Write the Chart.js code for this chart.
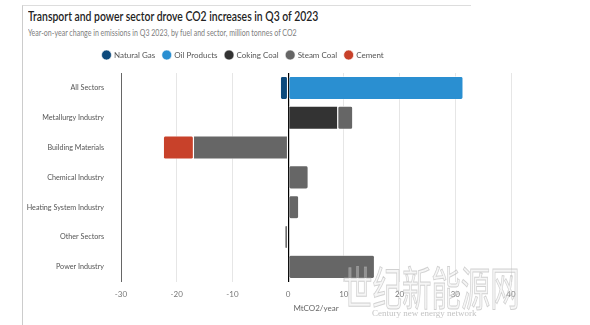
<!DOCTYPE html>
<html>
<head>
<meta charset="utf-8">
<script src="https://cdn.jsdelivr.net/npm/chart.js@4/dist/chart.umd.min.js"></script>
<style>
  body { margin: 0; background: #fff; font-family: "Lato", sans-serif; }
  #wrap { position: relative; width: 590px; height: 325px; overflow: hidden; }
  #frame { position: absolute; left: 22px; top: 5px; width: 448px; height: 330px; border-left: 1px solid #ccc; border-top: 1px solid #ddd; }
  .head { position: absolute; left: 28px; white-space: nowrap; transform-origin: 0 0; -webkit-font-smoothing: antialiased; }
  #title { top: 7px; font-size: 14px; color: #222; font-weight: 600; }
  #sub { top: 27px; font-size: 9px; color: #808080; }
  #wm1 { position: absolute; left: 343px; top: 252px; font-size: 46px; color: rgba(230,230,230,0.35); -webkit-text-stroke: 1px rgba(175,175,175,0.55); font-family: "Noto Sans CJK SC"; white-space: nowrap; transform-origin: 0 0; transform: scaleX(0.64); }
  #wm2 { position: absolute; left: 372px; top: 308px; font-size: 9px; color: rgba(170,170,170,0.7); font-family: "Liberation Serif", serif; white-space: nowrap; }
  canvas { position: absolute; left: 0; top: 0; }
</style>
</head>
<body>
<div id="wrap">
  <div id="frame"></div>
  <div id="title" class="head">Transport and power sector drove CO2 increases in Q3 of 2023</div>
  <div id="sub" class="head">Year-on-year change in emissions in Q3 2023, by fuel and sector, million tonnes of CO2</div>
  <canvas id="chart" width="590" height="325"></canvas>
  <div id="wm1">世纪新能源网</div>
  <div id="wm2">Century new energy network</div>
</div>
<script>
const sectors = ["All Sectors", "Metallurgy Industry", "Building Materials", "Chemical Industry",
  "Heating System Industry", "Other Sectors", "Power Industry"];

const naturalGas  = [-1.4, 0, 0, 0, 0, 0, 0];
const oilProducts = [31.4, 0, 0, 0, 0, 0, 0];
const cokingCoal  = [0, 8.9, 0, 0, 0, 0, 0];
const steamCoal   = [0, 2.7, -17.0, 3.6, 1.9, -0.6, 15.5];
const cement      = [0, 0, -5.4, 0, 0, 0, 0];

const xTicks = [-30, -20, -10, 0, 10, 20, 30, 40];

// squeeze the heading lines to the narrow width of the original font
const fitWidth = (id, w) => {
  const el = document.getElementById(id);
  el.style.transform = `scaleX(${w / el.scrollWidth})`;
};
fitWidth('title', 290);
fitWidth('sub', 269);

const font = { family: "Lato, sans-serif", size: 8 };

const ds = (label, data, color) => ({
  label, data, backgroundColor: color, borderColor: '#fff', borderWidth: 0.6,
  borderRadius: 2, borderSkipped: false, barPercentage: 0.78, categoryPercentage: 1
});

// nudge the legend so it sits left of centre like the original
const legendShift = {
  id: 'legendShift',
  afterLayout(chart) {
    const lg = chart.legend;
    lg.left = 95;
    lg.top -= 4;
    lg.bottom -= 4;
  }
};

const ctx = document.getElementById('chart').getContext('2d');
new Chart(ctx, {
  type: 'bar',
  data: {
    labels: sectors,
    datasets: [
      ds('Natural Gas', naturalGas, '#0d4a7c'),
      ds('Oil Products', oilProducts, '#2a8fd1'),
      ds('Coking Coal', cokingCoal, '#333333'),
      ds('Steam Coal', steamCoal, '#666666'),
      ds('Cement', cement, '#c8412a')
    ]
  },
  plugins: [legendShift],
  options: {
    indexAxis: 'y',
    responsive: false,
    animation: false,
    layout: { padding: { top: 47, right: 79, left: 0, bottom: 12 } },
    plugins: {
      legend: {
        position: 'top',
        align: 'start',
        labels: {
          usePointStyle: true, pointStyle: 'circle', boxWidth: 7, boxHeight: 7,
          padding: 8, color: '#555', font
        }
      },
      tooltip: { enabled: false }
    },
    scales: {
      x: {
        stacked: true, min: -30, max: 40,
        afterBuildTicks: axis => { axis.ticks = xTicks.map(v => ({ value: v })); },
        grid: {
          color: c => c.tick && c.tick.value === 0 ? '#000' : '#e6e6e6',
          lineWidth: c => c.tick && c.tick.value === 0 ? 1.2 : 1,
          drawTicks: false
        },
        border: { display: false },
        ticks: { color: '#777', padding: 8, font },
        title: { display: true, text: 'MtCO2/year', color: '#666', padding: { top: -4, bottom: 0 }, font }
      },
      y: {
        stacked: true,
        afterFit: scale => { scale.width = 121; },
        grid: { display: false },
        border: { color: '#666', width: 1 },
        ticks: { color: '#555', padding: 9, font: { family: "Lato, sans-serif", size: 7.2 } }
      }
    }
  }
});
</script>
</body>
</html>
